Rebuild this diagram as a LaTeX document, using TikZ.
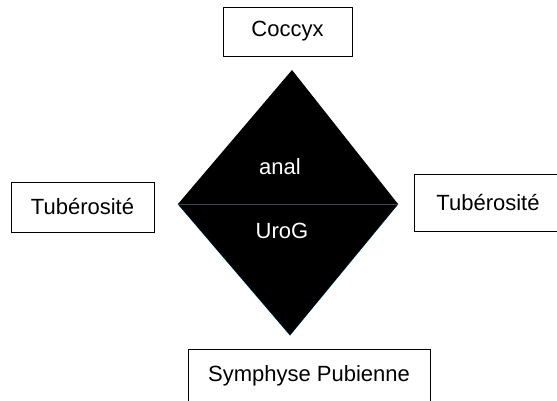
\documentclass[tikz,border=0pt]{standalone}
\usepackage{fontspec}
\setmainfont{Liberation Sans}

\begin{document}
\begin{tikzpicture}[
				x=1pt, y=1pt,
				bone/.style = {draw, line width=0.8pt, fill=white, align=center, inner sep=0pt,
						font=\fontsize{22}{26}\selectfont},
				zone/.style = {color=white, font=\fontsize{22}{26}\selectfont},
			]
			\path[use as bounding box, fill=white] (0,0) rectangle (557,401);
			% corners of the diamond
			\coordinate (T) at (292,331);
			\coordinate (L) at (178,197);
			\coordinate (R) at (398,197);
			\coordinate (B) at (290,66);
			\fill[black] (L) -- (T) -- (R) -- cycle;
			\filldraw[fill=black, draw=black!70!blue!60!cyan, line width=0.8pt] (L) -- (B) -- (R);
			\fill[black] (L) -- (B) -- (R) -- cycle;
			\draw[black!80!cyan, line width=0.6pt] (L) -- (R);
			\node[zone] (anal) at (280,234) {anal};
			\node[zone] (uro) at (282,170) {UroG};
			% bony landmarks
			\node[bone, minimum width=129, minimum height=49] (coccyx) at (287.5,369.5) {Coccyx};
			\node[bone, minimum width=143, minimum height=50] (tubL) at (82.5,194) {Tubérosité};
			\node[bone, minimum width=148, minimum height=57] (tubR) at (488,198.5) {Tubérosité};
			\node[bone, minimum width=242, minimum height=54] (symph) at (309,25) {Symphyse Pubienne};
		\end{tikzpicture}
\end{document}
